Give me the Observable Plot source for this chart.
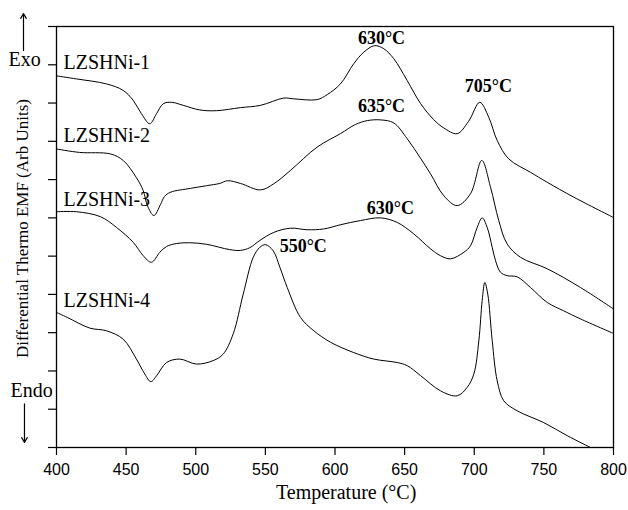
<!DOCTYPE html>
<html><head><meta charset="utf-8">
<script src="https://cdn.jsdelivr.net/npm/d3@7"></script>
<script src="https://cdn.jsdelivr.net/npm/@observablehq/plot@0.6"></script>
<style>
body{margin:0;background:#fff}
#chart svg{background:#fff}
</style>
</head><body><div id="chart"></div>
<script>
// Series: temperature (°C) and differential thermo EMF (arb units)
const s1T = [400,414.4,435.9,447.9,455.1,461.0,467.0,471.8,476.6,482.6,491.0,502.9,514.9,532.1,546.5,563.2,570.4,587.2,594.4,603.9,613.5,620.7,628.4,635.0,642.2,651.8,661.4,670.8,678.1,687.7,695.9,704.0,710.4,716.5,724.8,740.4,752.4,771.5,800];
const s1V = [9.71,9.63,9.50,9.33,9.07,8.72,8.46,8.72,8.98,9.02,8.94,8.82,8.80,8.88,8.94,9.13,9.11,9.09,9.22,9.50,10.03,10.33,10.50,10.42,10.16,9.59,8.99,8.57,8.35,8.20,8.52,9.02,8.63,8.02,7.54,7.19,6.93,6.54,6.01];

const s2T = [400,416.5,438.8,447.9,457.4,462.3,465.3,469.9,474.7,477.6,481.9,496.2,507.7,517.3,522.8,532.1,546.5,556.0,568.0,587.2,603.9,614.7,623.1,632.7,642.2,651.8,661.4,668.6,678.1,687.7,697.3,705.4,711.7,717.6,723.6,733.2,752.4,776.3,800];
const s2V = [7.80,7.71,7.67,7.50,7.05,6.71,6.32,6.06,6.35,6.56,6.67,6.77,6.84,6.90,6.97,6.90,6.73,6.89,7.24,7.85,8.20,8.44,8.54,8.56,8.48,8.07,7.56,7.15,6.58,6.32,6.63,7.50,6.80,5.93,5.32,4.97,4.67,4.18,3.62];

const s3T = [400,414.4,431.6,443.1,455.1,462.3,468.2,474.2,479.0,486.2,495.7,507.7,524.4,532.1,538.8,546.0,556.0,568.0,580.0,591.9,603.9,618.3,632.7,644.7,656.6,668.6,675.8,683.0,692.5,697.3,702.1,705.7,709.3,712.9,715.3,718.8,723.6,730.8,740.4,752.4,764.3,776.3,800];
const s3V = [6.16,6.16,6.03,5.75,5.36,5.01,4.84,5.10,5.25,5.33,5.35,5.31,5.17,5.15,5.22,5.41,5.62,5.73,5.69,5.71,5.82,5.93,6.00,5.88,5.58,5.19,5.01,4.93,5.10,5.27,5.75,6.00,5.75,5.23,4.88,4.58,4.49,4.46,4.18,3.79,3.57,3.36,2.98];

const s4T = [400,407.7,423.9,435.9,447.9,457.4,463.4,467.7,471.8,479.0,488.5,500.5,512.5,519.7,526.9,534.1,541.3,546.0,550.1,555.6,560.4,565.7,575.2,584.8,596.8,613.5,627.9,644.7,651.8,661.4,675.8,687.7,694.9,699.7,703.3,705.7,707.6,709.7,712.9,716.5,721.2,730.8,749.9,766.7,783.5];
const s4V = [3.53,3.40,3.12,3.05,2.83,2.31,1.92,1.72,1.87,2.22,2.31,2.18,2.27,2.44,2.97,4.01,4.97,5.23,5.30,5.14,4.71,4.18,3.40,3.05,2.75,2.48,2.31,2.22,2.14,1.88,1.48,1.35,1.57,1.92,2.79,3.84,4.31,4.01,2.79,1.74,1.22,0.96,0.65,0.31,0.0];

const seriesNames = ["LZSHNi-1","LZSHNi-2","LZSHNi-3","LZSHNi-4"];
const labelT = [405,405,405,405];
const labelV = [9.90,7.98,6.30,3.66];

const peakText = ["630°C","705°C","635°C","630°C","550°C"];
const peakT = [633.4,710.2,633.4,639.8,577.2];
const peakV = [10.55,9.28,8.76,6.09,5.10];

const xTicks = [400,450,500,550,600,650,700,750,800];
const yTicks = [0,1,2,3,4,5,6,7,8,9,10,11];

const sideText = ["Exo","Endo"];
const sideT = [365.5,367];
const sideV = [9.98,1.33];
const arrowT = [376.3,377];
const arrowFrom = [10.37,1.14];
const arrowTo = [11.34,0.13];

const xLabel = "Temperature (°C)";
const yLabel = "Differential Thermo EMF (Arb Units)";

// build tables
const allT = [s1T,s2T,s3T,s4T], allV = [s1V,s2V,s3V,s4V];
const lines = allT.flatMap((ts,i) => ts.map((t,j) => ({name: seriesNames[i], T: t, v: allV[i][j]})));
const labels = seriesNames.map((n,i) => ({text:n, T:labelT[i], v:labelV[i]}));
const peaks = peakText.map((s,i) => ({text:s, T:peakT[i], v:peakV[i]}));
const sides = sideText.map((s,i) => ({text:s, T:sideT[i], v:sideV[i]}));
const arrows = arrowT.map((t,i) => ({T:t, v1:arrowFrom[i], v2:arrowTo[i]}));

const serif = "'Liberation Serif','Times New Roman',serif";
const sans = "'Liberation Sans',Arial,sans-serif";

const chart = Plot.plot({
  width: 628, height: 510,
  marginLeft: 56, marginTop: 26, marginRight: 15, marginBottom: 63,
  x: {domain: [400, 800]},
  y: {domain: [0, 11]},
  style: {fontFamily: serif, color: "black", background: "white"},
  marks: [
    Plot.axisX({ticks: xTicks, tickSize: 8, tickPadding: 8, label: null, fontFamily: sans, fontSize: 16, stroke: "black", strokeWidth: 1.2}),
    Plot.axisY({ticks: yTicks, tickSize: 8, tickFormat: () => "", label: null, stroke: "black", strokeWidth: 1.2}),
    Plot.frame({stroke: "black", strokeWidth: 1.3}),
    Plot.line(lines, {x: "T", y: "v", z: "name", curve: "catmull-rom", stroke: "black", strokeWidth: 1}),
    Plot.text(labels, {x: "T", y: "v", text: "text", textAnchor: "start", lineAnchor: "bottom", fontSize: 20, fontFamily: serif, fill: "black"}),
    Plot.text(peaks, {x: "T", y: "v", text: "text", textAnchor: "middle", lineAnchor: "bottom", fontSize: 18, fontWeight: "bold", fontFamily: serif, fill: "black"}),
    Plot.text(sides, {x: "T", y: "v", text: "text", textAnchor: "start", lineAnchor: "bottom", fontSize: 20, fontFamily: serif, fill: "black"}),
    Plot.arrow(arrows, {x: "T", y1: "v1", y2: "v2", stroke: "black", strokeWidth: 1.2, headLength: 7, bend: 0}),
    Plot.text([xLabel], {frameAnchor: "bottom", x: () => 608, text: d => d, lineAnchor: "bottom", dy: 51, fontSize: 20, fontFamily: serif, fill: "black"}),
    Plot.text([yLabel], {x: () => 375.6, y: () => 5.72, text: d => d, rotate: -90, lineAnchor: "middle", fontSize: 17, fontFamily: serif, fill: "black"})
  ]
});
document.getElementById("chart").appendChild(chart);
</script>
</body></html>
